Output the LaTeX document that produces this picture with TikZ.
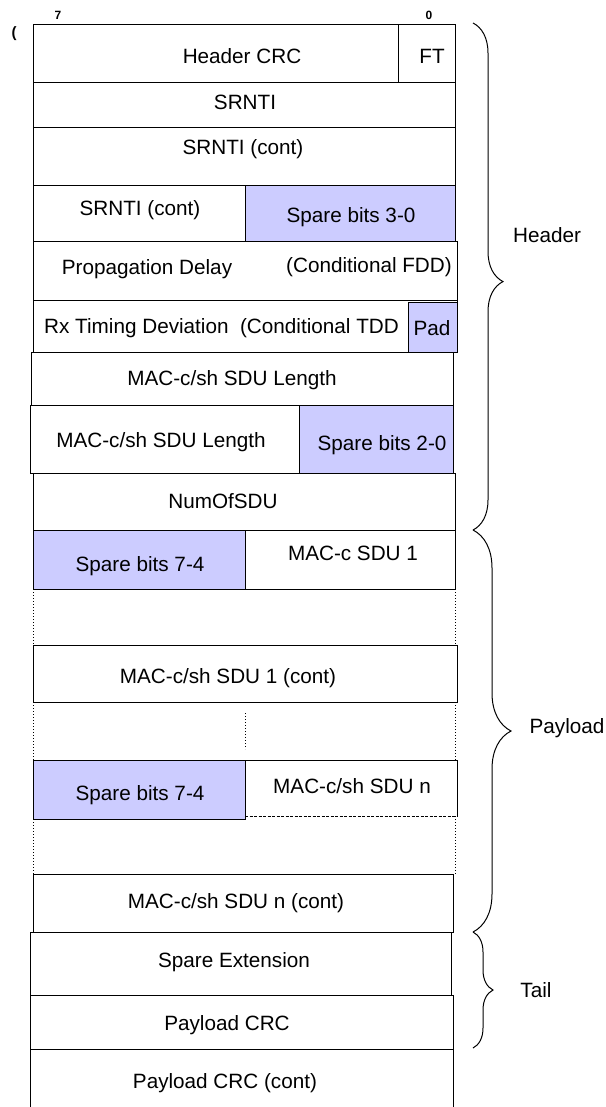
\documentclass[tikz,border=0pt]{standalone}
\usepackage{fontspec}
\setmainfont{Liberation Sans}
\usetikzlibrary{decorations.pathreplacing}
\definecolor{sparefill}{RGB}{204,204,255}

\begin{document}
\begin{tikzpicture}[x=1pt, y=-1pt,
	field/.style={draw, line width=1pt},
	spare/.style={draw, line width=1pt, fill=sparefill},
	gapline/.style={dotted, line width=1pt},
	lbl/.style={anchor=base, inner sep=0pt, font=\fontsize{20.7}{24}\selectfont},
	bitno/.style={anchor=base, inner sep=0pt, font=\fontsize{12}{14}\selectfont\bfseries},
	grp/.style={decorate, decoration={brace, amplitude=#1}, line width=1pt}]
	\useasboundingbox (0,0) rectangle (605,1107);
	
	% Bit numbers
	\node[bitno] (msb) at (58,20) {7};
	\node[bitno] (lsb) at (429,20) {0};
	\node[bitno, font=\fontsize{15}{17}\selectfont\bfseries] (paren) at (14,38) {(};
	
	% Header fields
	\draw[field] (33,25) rectangle (455,83);
	\draw[field] (398,25) -- (398,83);
	\node[lbl] (hcrc) at (242,64) {Header CRC};
	\node[lbl] (ft) at (432,64) {FT};
	
	\draw[field] (33,83) rectangle (455,128);
	\node[lbl] (srnti) at (245,110) {SRNTI};
	\draw[field] (33,128) rectangle (455,186);
	\node[lbl] (srntia) at (243,155) {SRNTI (cont)};
	
	\draw[field] (33,186) rectangle (245,241);
	\draw[spare] (245,186) rectangle (455,241);
	\node[lbl] (srntib) at (140,215) {SRNTI (cont)};
	\node[lbl] (sparea) at (351,223) {Spare bits 3-0};
	
	\draw[field] (33,241) rectangle (457,300);
	\node[lbl] (propdelay) at (147,274) {Propagation Delay};
	\node[lbl] (condfdd) at (369,272) {(Conditional FDD)};
	
	\draw[field] (33,300) rectangle (457,352);
	\draw[spare] (408,302) rectangle (457,352);
	\node[lbl, anchor=base west] (rxtiming) at (44,333) {Rx Timing Deviation\ \ (Conditional TDD};
	\node[lbl] (pad) at (432,335) {Pad};
	
	\draw[field] (31,352) rectangle (453,405);
	\node[lbl] (sdulen) at (232,385) {MAC-c/sh SDU Length};
	\draw[field] (30,405) rectangle (299,473);
	\draw[spare] (299,405) rectangle (453,473);
	\node[lbl] (sdulenb) at (161,447) {MAC-c/sh SDU Length};
	\node[lbl] (spareb) at (382,450) {Spare bits 2-0};
	
	\draw[field] (33,473) rectangle (455,530);
	\node[lbl] (numsdu) at (223,508) {NumOfSDU};
	
	% Payload fields
	\draw[spare] (33,530) rectangle (245,589);
	\draw[field] (245,530) rectangle (455,589);
	\node[lbl] (sparec) at (140,571) {Spare bits 7-4};
	\node[lbl] (sduone) at (353,560) {MAC-c SDU 1};
	\draw[gapline] (33,589) -- (33,645);
	\draw[gapline] (455,589) -- (455,645);
	
	\draw[field] (33,645) rectangle (457,702);
	\node[lbl] (sduonec) at (228,683) {MAC-c/sh SDU 1 (cont)};
	\draw[gapline] (33,702) -- (33,760);
	\draw[gapline] (245,713) -- (245,749);
	\draw[gapline] (455,702) -- (455,760);
	
	\draw[spare] (33,760) rectangle (245,819);
	\draw[field] (245,816) -- (245,760) -- (457,760) -- (457,816);
	\draw[line width=1pt, dash pattern=on 3pt off 1.5pt] (245,816) -- (457,816);
	\node[lbl] (spared) at (140,800) {Spare bits 7-4};
	\node[lbl] (sdun) at (352,793) {MAC-c/sh SDU n};
	\draw[gapline] (33,819) -- (33,874);
	\draw[gapline] (455,816) -- (455,874);
	
	\draw[field] (33,874) rectangle (453,932);
	\node[lbl] (sdunc) at (236,908) {MAC-c/sh SDU n (cont)};
	
	% Tail fields
	\draw[field] (30,932) rectangle (451,995);
	\node[lbl] (spext) at (234,967) {Spare Extension};
	\draw[field] (30,995) rectangle (453,1049);
	\node[lbl] (pcrc) at (227,1030) {Payload CRC};
	\draw[field] (30,1049) rectangle (453,1125);
	\node[lbl] (pcrcc) at (225,1088) {Payload CRC (cont)};
	
	% Braces
	\draw[grp=30pt, decoration={aspect=0.51}] (473,23) -- (473,530);
	\node[lbl] (hdr) at (547,243) {Header};
	\draw[grp=38pt] (473,530) -- (473,932);
	\node[lbl] (pld) at (567,733) {Payload};
	\draw[grp=20pt] (473,932) -- (473,1048);
	\node[lbl] (tail) at (536,997) {Tail};
\end{tikzpicture}
\end{document}
